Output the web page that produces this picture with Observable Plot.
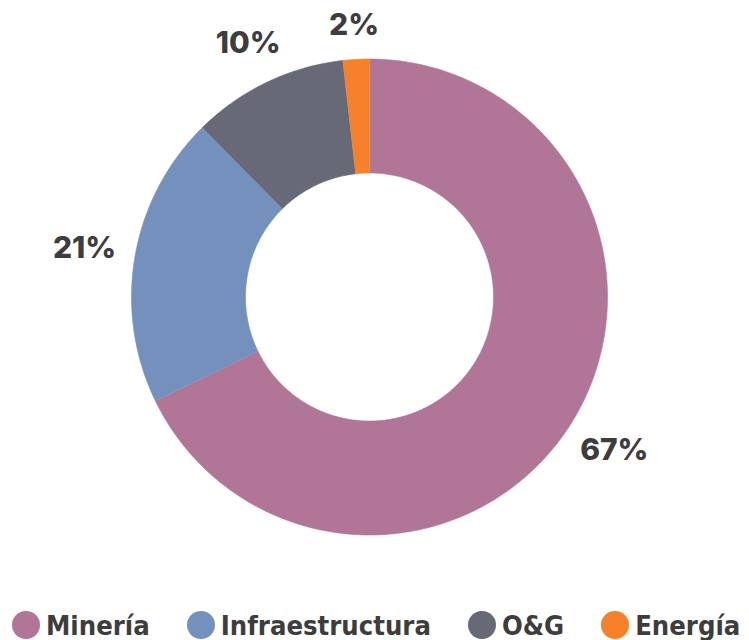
<!DOCTYPE html>
<html><head><meta charset="utf-8">
<script src="https://cdn.jsdelivr.net/npm/d3@7"></script>
<script src="https://cdn.jsdelivr.net/npm/@observablehq/plot@0.6"></script>
<style>
body{margin:0;background:#fff;}
#chart svg{display:block}
#legend{display:flex;gap:37px;margin-left:12px;height:50px;align-items:center;font-family:"DejaVu Sans Condensed","DejaVu Sans",sans-serif;font-stretch:condensed;font-weight:bold;font-size:27.2px;color:#3d3d3d;white-space:nowrap}
.item{display:flex;align-items:center;gap:6px}
.sw{width:28px;height:28px;border-radius:50%;flex:none}
</style></head><body>
<div id="chart"></div><div id="legend"></div>
<script>
const categories = ["Minería","Infraestructura","O&G","Energía"];
const shares = [67.8, 19.8, 10.6, 1.8];
const labels = ["67%","21%","10%","2%"];
const colors = ["#b07597","#7490bd","#676977","#f7812a"];

const R = 238, r0 = 124;
const arcs = d3.pie().sort(null)(shares);
const pts = [];
arcs.forEach((a, i) => {
  const n = Math.max(4, Math.ceil((a.endAngle - a.startAngle) * 80));
  for (let k = 0; k <= n; k++) {
    const t = a.startAngle + (a.endAngle - a.startAngle) * k / n;
    pts.push({cat: categories[i], x: R * Math.sin(t), y: R * Math.cos(t)});
  }
  for (let k = n; k >= 0; k--) {
    const t = a.startAngle + (a.endAngle - a.startAngle) * k / n;
    pts.push({cat: categories[i], x: r0 * Math.sin(t), y: r0 * Math.cos(t)});
  }
});
const labelData = arcs.map((a, i) => {
  const m = (a.startAngle + a.endAngle) / 2;
  const rl = R + 24 + 26 * Math.abs(Math.sin(m)) + 9 * Math.abs(Math.cos(m));
  return {text: labels[i], x: rl * Math.sin(m), y: rl * Math.cos(m)};
});

const chart = Plot.plot({
  width: 749, height: 600, margin: 0,
  x: {domain: [-369, 380], axis: null},
  y: {domain: [-303.5, 296.5], axis: null},
  color: {domain: categories, range: colors},
  marks: [
    Plot.line(pts, {x: "x", y: "y", z: "cat", fill: "cat", stroke: "cat", strokeWidth: 0.6}),
    Plot.text(labelData, {x: "x", y: "y", text: "text", fontSize: 30, fontWeight: 800, fill: "#3d3d3d", fontFamily: "Inter, sans-serif"})
  ]
});
document.getElementById("chart").append(chart);

const leg = document.getElementById("legend");
categories.forEach((c, i) => {
  const it = document.createElement("div"); it.className = "item";
  const sw = document.createElement("span"); sw.className = "sw"; sw.style.background = colors[i];
  const tx = document.createElement("span"); tx.textContent = c;
  it.append(sw, tx); leg.append(it);
});
</script></body></html>
